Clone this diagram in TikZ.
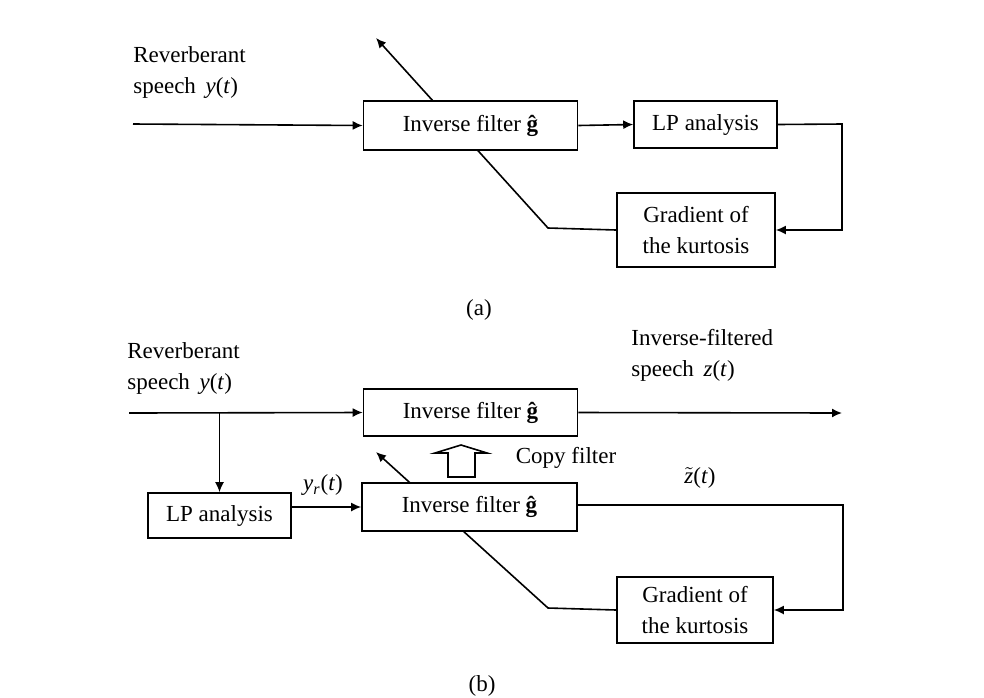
\documentclass[tikz,border=0pt]{standalone}
\usepackage{fontspec}
\setmainfont{Liberation Serif}
\usetikzlibrary{shapes, arrows}
\usetikzlibrary{arrows.meta,calc,positioning}
\pgfdeclarelayer{background1}
\pgfsetlayers{background1,main}

\begin{document}
\begin{tikzpicture}[x=0.5pt,y=-0.5pt]

	\tikzset{
		blockbox/.style={draw, fill=white, line width=0.8pt, align=center, inner sep=0pt, font=\fontsize{11.5}{15.5}\selectfont},
		txtlabel/.style={align=left, inner sep=0pt, font=\fontsize{11.5}{15.5}\selectfont},
		flowline/.style={line width=0.8pt},
		flowarrow/.style={-{Latex[length=5pt,width=4.5pt]}, line width=0.8pt},
	}
	\useasboundingbox (0,0) rectangle (984,697);

	% (a)
	\node(invA) [blockbox, minimum width=107pt, minimum height=24.5pt] at (470.5,125.5) {Inverse filter \textbf{ĝ}};
	\node(lpA) [blockbox, minimum width=71.5pt, minimum height=23.5pt] at (705.5,124.5) {LP analysis};
	\node(gradA) [blockbox, minimum width=79pt, minimum height=37pt] at (696,230) {Gradient of\\the kurtosis};
	\node(speechA) [txtlabel, anchor=north west] at (133,46) {Reverberant\\speech \,\textit{y}(\textit{t})};
	\node(capA) [txtlabel] at (479,310) {(a)};

	\coordinate (inA) at (133,124);
	\coordinate (rightA) at (842,124);
	\coordinate (kneeA) at (548,228);
	\coordinate (tipA) at (376,38);

	% (b)
	\node(invTop) [blockbox, minimum width=107pt, minimum height=23.5pt] at (470.5,412.5) {Inverse filter \textbf{ĝ}};
	\node(invLow) [blockbox, minimum width=107.5pt, minimum height=24pt] at (469.5,507) {Inverse filter \textbf{ĝ}};
	\node(lpB) [blockbox, minimum width=71.5pt, minimum height=22.5pt] at (219.5,515.5) {LP analysis};
	\node(gradB) [blockbox, minimum width=78pt, minimum height=33pt] at (695,610) {Gradient of\\the kurtosis};
	\node(speechB) [txtlabel, anchor=north west] at (127,342) {Reverberant\\speech \,\textit{y}(\textit{t})};
	\node(outB) [txtlabel, anchor=north west] at (631,329) {Inverse-filtered\\speech \,\textit{z}(\textit{t})};
	\node(yr) [txtlabel] at (323,485) {\textit{y}\textsubscript{\textit{r}}(\textit{t})};
	\node(ztilde) [txtlabel] at (700,478) {$\tilde{\mbox{\textit{z}}}$(\textit{t})};
	\node(copy) [txtlabel] at (566,458) {Copy filter};
	\node(capB) [txtlabel] at (482,686) {(b)};

	\coordinate (inB) at (129,413);
	\coordinate (endB) at (842,413);
	\coordinate (rightB) at (843,505);
	\coordinate (kneeB) at (548,608);
	\coordinate (tipB) at (376,452);
	\coordinate (copyTip) at (461,445);

	\begin{pgfonlayer}{background1}
		\draw[flowarrow] (inA) -- (invA.west);
		\draw[flowarrow] (invA.east) -- (lpA.west);
		\draw[flowarrow] (lpA.east) -- (rightA) |- (gradA.east);
		\draw[flowarrow] (gradA.west) -- (kneeA) -- (tipA);

		\draw[flowarrow] (inB) -- (invTop.west);
		\draw[flowarrow] (invTop.east) -- (endB);
		\draw[flowarrow] (lpB.north |- inB) -- (lpB.north);
		\draw[flowarrow] (lpB.east |- invLow.west) -- (invLow.west);
		\draw[flowarrow] (invLow.east |- rightB) -- (rightB) |- (gradB.east);
		\draw[flowarrow] (gradB.west) -- (kneeB) -- (tipB);
	\end{pgfonlayer}

	% hollow copy arrow
	\draw[flowline, fill=white] (copyTip) -- ++(26,8) -- ++(-12,0) -- ++(0,24) -- ++(-27,0) -- ++(0,-24) -- ++(-13,0) -- cycle;

\end{tikzpicture}
\end{document}
